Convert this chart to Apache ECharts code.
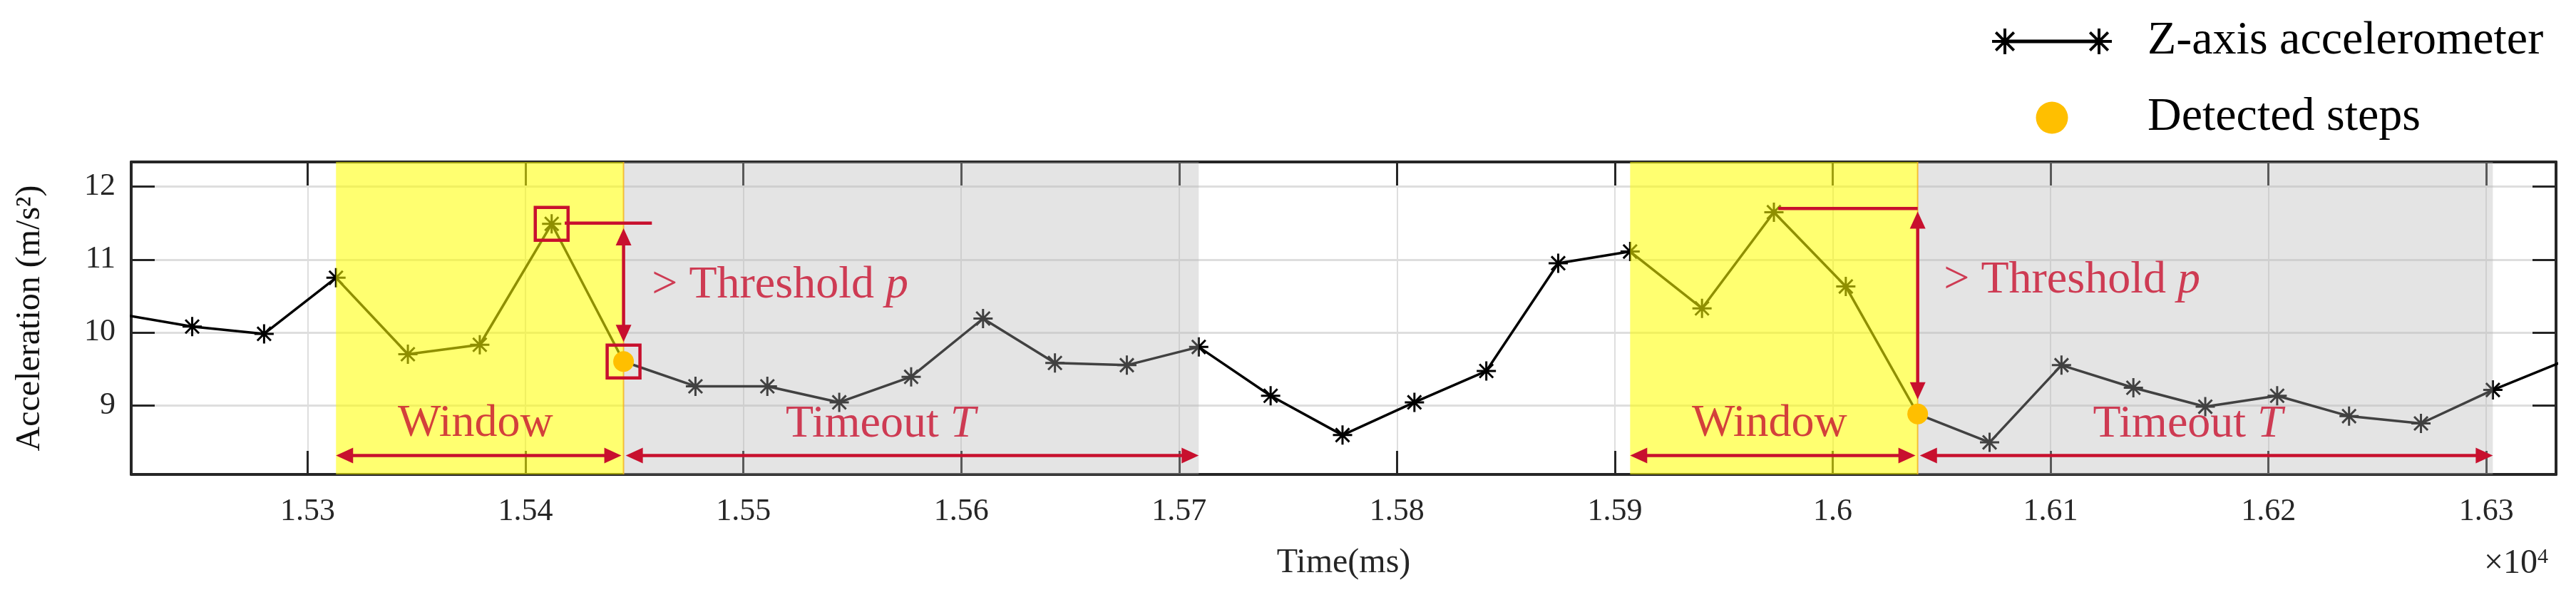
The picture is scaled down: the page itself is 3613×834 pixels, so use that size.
<!DOCTYPE html>
<html>
<head>
<meta charset="utf-8">
<title>Step detection</title>
<script src="https://cdn.jsdelivr.net/npm/echarts@6.0.0/dist/echarts.min.js"></script>
<style>
  html, body { margin: 0; padding: 0; background: #fff; }
  #chart { width: 3613px; height: 834px; }
</style>
</head>
<body>
<div id="chart"></div>
<script>
// accelerometer samples: time (ms) and z-axis acceleration (m/s^2)
const times = [15214, 15247, 15280, 15313, 15346, 15379, 15412, 15445, 15478, 15511,
  15544, 15577, 15610, 15643, 15676, 15709, 15742, 15775, 15808, 15841,
  15874, 15907, 15940, 15973, 16006, 16039, 16072, 16105, 16138, 16171,
  16204, 16237, 16270, 16303, 16336]
const accel = [10.25, 10.08, 9.98, 10.75, 9.70, 9.83, 11.49, 9.60, 9.26, 9.26,
  9.04, 9.39, 10.19, 9.58, 9.55, 9.80, 9.13, 8.59, 9.04, 9.47,
  10.95, 11.11, 10.33, 11.65, 10.63, 8.88, 8.49, 9.55, 9.24, 8.98,
  9.13, 8.85, 8.75, 9.21, 9.61]

// detected steps
const stepTimes = [15445, 16039]
const stepValues = [9.60, 8.88]

// shaded spans [start, end] (ms)
const windowSpans = [[15313, 15445], [15907, 16039]]
const timeoutSpans = [[15445, 15709], [16039, 16303]]

// boxed samples (peak and step) in the first window
const boxTimes = [15412, 15445]
const boxValues = [11.49, 9.60]

// annotation anchors, in axis units
const peakLines = [[15418, 15458, 11.50], [15975, 16039, 11.70]]   // [from, to, level]
const thresholdArrows = [[15445, 11.43, 9.87], [16039, 11.66, 9.08]] // [time, top, bottom]
const windowArrows = [[15313, 15444], [15907, 16038]]
const timeoutArrows = [[15446, 15709], [16040, 16303]]
const arrowLevel = 8.31
const thresholdLabelPos = [[15458, 10.64], [16051, 10.71]]
const windowLabelPos = [[15377, 8.74], [15971, 8.74]]
const timeoutLabelPos = [[15563, 8.73], [16163, 8.73]]

const xMin = 15219, xMax = 16332
const yMin = 8.05, yMax = 12.34

const SERIF = '"Liberation Serif", "DejaVu Serif", serif'
const RED = '#C8102E'
const AXIS = '#262626'

// 8-armed asterisk (MATLAB '*'), built from thin filled bars
const star = (dx) => {
  const p = (x, y) => (x + dx) + ',' + y
  return 'M' + p(16, 0) + 'L' + p(20, 0) + 'L' + p(20, 36) + 'L' + p(16, 36) + 'Z' +
    'M' + p(0, 16) + 'L' + p(36, 16) + 'L' + p(36, 20) + 'L' + p(0, 20) + 'Z' +
    'M' + p(6.71, 3.89) + 'L' + p(32.11, 29.29) + 'L' + p(29.29, 32.11) + 'L' + p(3.89, 6.71) + 'Z' +
    'M' + p(3.89, 29.29) + 'L' + p(29.29, 3.89) + 'L' + p(32.11, 6.71) + 'L' + p(6.71, 32.11) + 'Z'
}
const STAR = 'path://' + star(0)
const LEGEND_STAR = 'path://' + star(0) + 'M18,15.5L150,15.5L150,20.5L18,20.5Z' + star(132)

const chart = echarts.init(document.getElementById('chart'))

const spanData = windowSpans.map(s => [s[0], s[1], 0])
  .concat(timeoutSpans.map(s => [s[0], s[1], 1]))

// [x1, y1, x2, y2, hasHeads]
const arrowData = []
peakLines.forEach(l => arrowData.push([l[0], l[2], l[1], l[2], 0]))
thresholdArrows.forEach(a => arrowData.push([a[0], a[1], a[0], a[2], 1]))
windowArrows.concat(timeoutArrows).forEach(a => arrowData.push([a[0], arrowLevel, a[1], arrowLevel, 1]))

const noteData = []
thresholdLabelPos.forEach(p => noteData.push({ value: p, label: { formatter: '{n|> Threshold }{i|p}', align: 'left' } }))
windowLabelPos.forEach(p => noteData.push({ value: p, label: { formatter: '{n|Window}' } }))
timeoutLabelPos.forEach(p => noteData.push({ value: p, label: { formatter: '{n|Timeout }{i|T}' } }))

const boxAxis = (position, showLabel) => ({
  type: 'value',
  position: position,
  min: xMin,
  max: xMax,
  splitNumber: 11,
  axisLine: { show: true, onZero: false, lineStyle: { color: AXIS, width: 4 } },
  axisTick: { show: true, inside: true, length: 33, lineStyle: { color: AXIS, width: 3 } },
  axisLabel: {
    show: showLabel,
    showMinLabel: false,
    showMaxLabel: false,
    margin: 30,
    fontSize: 44,
    fontFamily: SERIF,
    color: AXIS,
    formatter: v => String(+(v / 10000).toFixed(2))
  },
  splitLine: { show: showLabel, lineStyle: { color: '#dedede', width: 2 } }
})

const valueAxis = (position, showLabel) => ({
  type: 'value',
  position: position,
  min: yMin,
  max: yMax,
  splitNumber: 4,
  axisLine: { show: true, onZero: false, lineStyle: { color: AXIS, width: 4 } },
  axisTick: { show: true, inside: true, length: 33, lineStyle: { color: AXIS, width: 3 } },
  axisLabel: {
    show: showLabel,
    showMinLabel: false,
    showMaxLabel: false,
    margin: 22,
    fontSize: 44,
    fontFamily: SERIF,
    color: AXIS
  },
  splitLine: { show: showLabel, lineStyle: { color: '#dedede', width: 3 } }
})

const xBottom = boxAxis('bottom', true)
xBottom.name = 'Time(ms)'
xBottom.nameLocation = 'middle'
xBottom.nameGap = 100
xBottom.nameTextStyle = { fontSize: 48, fontFamily: SERIF, color: AXIS }

const yLeft = valueAxis('left', true)
yLeft.name = 'Acceleration (m/s²)'
yLeft.nameLocation = 'middle'
yLeft.nameGap = 118
yLeft.nameTextStyle = { fontSize: 48, fontFamily: SERIF, color: '#111' }

// red line, optionally with a filled triangular head at each end
const renderArrow = (params, api) => {
  const p1 = api.coord([api.value(0), api.value(1)])
  const p2 = api.coord([api.value(2), api.value(3)])
  const heads = api.value(4) === 1
  const dx = p2[0] - p1[0], dy = p2[1] - p1[1]
  const len = Math.hypot(dx, dy) || 1
  const ux = dx / len, uy = dy / len
  const L = 24, W = 11
  const head = (tip, sx, sy) => {
    const bx = tip[0] - sx * L, by = tip[1] - sy * L
    return {
      type: 'polygon',
      shape: { points: [tip, [bx - sy * W, by + sx * W], [bx + sy * W, by - sx * W]] },
      style: { fill: RED }
    }
  }
  const inset = heads ? L * 0.8 : 0
  const children = [{
    type: 'line',
    shape: { x1: p1[0] + ux * inset, y1: p1[1] + uy * inset, x2: p2[0] - ux * inset, y2: p2[1] - uy * inset },
    style: { stroke: RED, lineWidth: 4.5 }
  }]
  if (heads) {
    children.push(head(p1, -ux, -uy), head(p2, ux, uy))
  }
  return { type: 'group', children: children }
}

const option = {
  animation: false,
  backgroundColor: '#fff',
  grid: { left: 184, right: 28, top: 227, bottom: 169, outerBoundsMode: 'none' },
  xAxis: [xBottom, boxAxis('top', false)],
  yAxis: [yLeft, valueAxis('right', false)],
  legend: {
    orient: 'vertical',
    left: 2789,
    top: 20,
    itemWidth: 168,
    itemHeight: 45,
    itemGap: 41,
    selectedMode: false,
    data: [
      { name: 'Z-axis accelerometer', icon: LEGEND_STAR },
      { name: 'Detected steps', icon: 'circle' }
    ],
    textStyle: { fontSize: 66, fontFamily: SERIF, color: '#000', padding: [0, 0, 0, 45] }
  },
  graphic: [{
    type: 'text',
    left: 3484,
    top: 766,
    style: {
      text: '{a|×10}{b|4}',
      rich: {
        a: { fontSize: 48, fontFamily: SERIF, fill: AXIS, verticalAlign: 'bottom' },
        b: { fontSize: 30, fontFamily: SERIF, fill: AXIS, verticalAlign: 'top' }
      }
    }
  }],
  series: [
    {
      name: 'Z-axis accelerometer',
      type: 'line',
      data: times.map((t, i) => [t, accel[i]]),
      symbol: STAR,
      symbolSize: 27,
      showAllSymbol: true,
      clip: true,
      itemStyle: { color: '#000' },
      lineStyle: { color: '#000', width: 3.5 },
      z: 2
    },
    {
      name: 'spans',
      type: 'custom',
      data: spanData,
      encode: { x: [0, 1] },
      silent: true,
      z: 3,
      renderItem: (params, api) => {
        const a = api.coord([api.value(0), yMax])
        const b = api.coord([api.value(1), yMin])
        const isWindow = api.value(2) === 0
        const children = [{
          type: 'rect',
          shape: { x: a[0], y: a[1], width: b[0] - a[0], height: b[1] - a[1] },
          style: { fill: isWindow ? 'rgba(255,255,0,0.56)' : 'rgba(179,179,179,0.36)' }
        }]
        if (isWindow) {
          children.push({
            type: 'line',
            shape: { x1: b[0], y1: a[1], x2: b[0], y2: b[1] },
            style: { stroke: 'rgba(255,176,0,0.8)', lineWidth: 2 }
          })
        }
        return { type: 'group', children: children }
      }
    },
    {
      name: 'Detected steps',
      type: 'scatter',
      data: stepTimes.map((t, i) => [t, stepValues[i]]),
      symbol: 'circle',
      symbolSize: 29,
      itemStyle: { color: '#FFBF00', opacity: 1 },
      z: 4
    },
    {
      name: 'boxes',
      type: 'scatter',
      data: boxTimes.map((t, i) => [t, boxValues[i]]),
      symbol: 'rect',
      symbolSize: 46,
      silent: true,
      itemStyle: { color: 'rgba(0,0,0,0)', borderColor: RED, borderWidth: 4.5, opacity: 1 },
      z: 5
    },
    {
      name: 'arrows',
      type: 'custom',
      data: arrowData,
      encode: { x: [0, 2], y: [1, 3] },
      silent: true,
      z: 5,
      renderItem: renderArrow
    },
    {
      name: 'notes',
      type: 'scatter',
      data: noteData,
      symbolSize: 1,
      silent: true,
      itemStyle: { color: 'rgba(0,0,0,0)' },
      label: {
        show: true,
        position: 'inside',
        verticalAlign: 'middle',
        rich: {
          n: { fontSize: 64, fontFamily: SERIF, color: RED },
          i: { fontSize: 64, fontFamily: SERIF, color: RED, fontStyle: 'italic' }
        }
      },
      z: 6
    }
  ]
}

chart.setOption(option)
window.addEventListener('resize', () => chart.resize())
</script>
</body>
</html>
